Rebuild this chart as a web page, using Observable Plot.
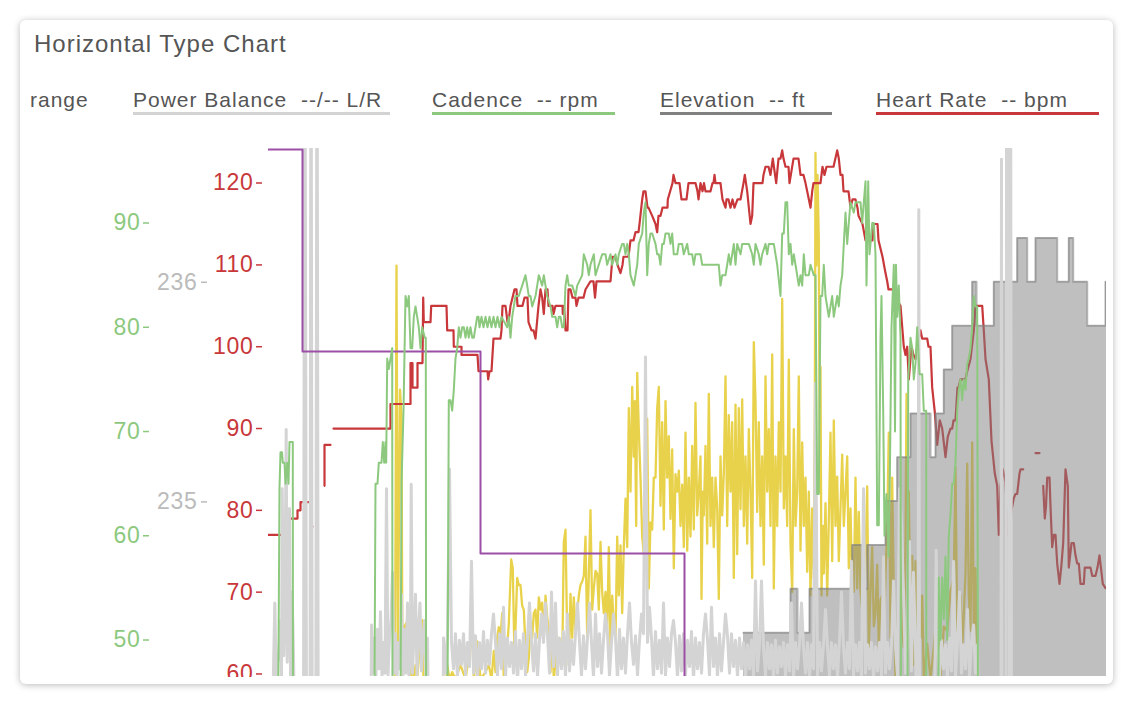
<!DOCTYPE html>
<html><head><meta charset="utf-8">
<script src="https://cdn.jsdelivr.net/npm/d3@7"></script>
<script src="https://cdn.jsdelivr.net/npm/@observablehq/plot@0.6"></script>
<style>
body{margin:0;background:#fff;width:1135px;height:707px;overflow:hidden;font-family:"Liberation Sans",Arial,sans-serif;}
#card{position:absolute;left:20px;top:20px;width:1093px;height:664px;background:#fff;border-radius:6px;box-shadow:0 1px 7px rgba(0,0,0,.28);overflow:hidden;}
#title{position:absolute;left:14px;top:11px;font-size:24px;line-height:26px;color:#555;letter-spacing:1px;white-space:nowrap;}
.lg{position:absolute;top:68px;font-size:21px;line-height:24px;height:24px;color:#555;letter-spacing:1px;white-space:pre;border-bottom:3px solid transparent;}
#wrap{position:absolute;left:0;top:100px;width:1093px;height:557px;overflow:hidden;}
#wrap svg text{letter-spacing:0.7px;}
</style></head>
<body>
<div id="card">
  <div id="title">Horizontal Type Chart</div>
  <div class="lg" style="left:10px;">range</div>
  <div class="lg" style="left:113px;width:257px;border-color:#d3d3d3;">Power Balance  --/-- L/R</div>
  <div class="lg" style="left:412px;width:183px;border-color:#8cc97e;">Cadence  -- rpm</div>
  <div class="lg" style="left:640px;width:172px;border-color:#808080;">Elevation  -- ft</div>
  <div class="lg" style="left:856px;width:223px;border-color:#c8373a;">Heart Rate  -- bpm</div>
  <div id="wrap"></div>
</div>
<script>
// ---- data (time in s, values in series units) ----
const hrTicks = [60,70,80,90,100,110,120];
const cadTicks = [50,60,70,80,90];
const pbTicks = [235,236];

const purple = [[268,3],[302,2],[480,1],[684,0],[1106,0]];

const hr = [[268,77],[288,77],[288,79],[297,79],[297,80],[300,80],[300,81],[310,81],[310,78],[312,78],[312,null],
[324,83],[324,88],[330,88],[330,null],
[333,90],[390,90],[390,93],[410,93],[410,98],[412,98],[412,95],[417,95],[417,98],[422,98],[422.7,106],[423.3,103],[430,103],[430.7,105],[446,105],[446.7,102],[453,102],[453.3,100],[461,100],[461,99],[477,99],[478,97],[487,97],[487.7,96],[489,97],[491,97],[493,101],[500,101],[501,102],[502,105],[505,105],[507,103],[508,103],[510,105],[514,107],[516,107],[517,105],[522,105],[524,106],[527,106],[528,103],[531,102],[533,102],[535,101],[538,105],[540,107],[541.7,106],[543.3,104],[545,107],[547,107],[548,105],[552,105],[553,104],[555,105],[562,105],[562.3,104],[563.5,105],[565,102],[567,102],[568,107],[570,107],[572,106],[575,106],[576,105],[578,106],[583,106],[585,107],[590,108],[593,108],[594.5,106],[596,108],[610,108],[612,111],[615,111],[617,110],[620,109],[622,110],[623,111],[628,111],[630,113],[633,113],[635,114],[638,114],[639,115],[641.7,118],[643,119],[645,119],[647,117],[648,117],[651.7,116],[655,115],[656.7,114],[658,116],[660,116],[662,117],[667,117],[667.3,118],[672,120],[673,121],[675,120],[679,120],[681,118],[686,118],[688,120],[695,120],[697,119],[698,118],[700,120],[702,119],[703.5,120],[705,119],[710,119],[712,120],[713,120],[714,121],[715,120],[720,120],[722,118],[725,117],[726,118],[728,118],[730,117],[732,118],[734,117],[737,118],[740,118],[743,120],[744.3,121],[746.7,119],[750,115],[751.7,116],[753,120],[762,120],[763,121],[765,122],[768,122],[770,121],[772.3,123],[775.7,120],[778,123],[780,123],[781.7,124],[783,123],[785,122],[788,122],[789,120],[793,123],[798,123],[800,121],[803,121],[805,120],[806.7,119],[810,117],[811.7,119],[813,120],[820,120],[822,122],[824,121],[826,122],[833,122],[836.7,124],[838.3,123],[840,121],[842,121],[843,119],[848,119],[850,117],[852,118],[855,118],[857,117],[858,116],[862,115],[865,113],[872,113],[873,115],[877,115],[878,113],[882,111],[885,109],[886.7,108],[888,107],[893,107],[895,106],[900,105],[903.3,100],[905,99],[906.7,100],[908.3,96],[911,100],[913,99],[915,98.5],[916.7,100],[920,102],[921.7,101],[926.7,101],[928,100],[930,100],[931.7,95],[934.3,92],[936.7,88],[939.3,91],[941.7,90],[945,86.5],[947.3,89],[950,90],[951.7,90],[953,91],[955,91],[956,93],[957,95],[958,95],[960,96],[965,96],[966.7,97],[970,98.5],[973.3,102],[975,105],[981.7,105],[983.3,102],[985,98.5],[988.3,96],[991,88.5],[994.3,84.5],[996.7,83],[998.3,77],[1000,83],[1002.3,85],[1005,83.5],[1007.7,77],[1009.3,77],[1011,80],[1013.3,81.5],[1015,82],[1016.7,82],[1019,84.5],[1020,85],[1022.7,85],[1022.7,null],[1035,87],[1039,87],[1039,null],[1042.7,83],[1044.3,79],[1045.5,80.5],[1046.7,84],[1049,84],[1050,80.5],[1051.7,75.5],[1053.3,77],[1055,77],[1056.7,73.5],[1059,71],[1060.7,73],[1062.7,76],[1065,85],[1067.3,83],[1068.3,73],[1071,76],[1073.3,76],[1075,74.5],[1076.7,73.5],[1078.3,73.5],[1080,71],[1083.3,71],[1084.3,73],[1090,73],[1091.7,72],[1095,72],[1097,73],[1099,74.5],[1102.3,71],[1105,70.5]];

const cadence = [[268,0],[275,0],[279,64.6],[280,68],[281.5,68],[282.3,67],[284,67],[285,65],[286.7,67],[288,65],[289,69],[292.3,69],[292.7,0],[371.7,0],[375,65],[377,65],[378.3,67],[381,67],[382.3,69],[383.7,67],[385,69],[385.7,67],[386.7,77],[388.3,76],[390,77],[391.7,78],[392.3,0],[398,0],[401,65],[403,72],[405,83],[406.7,82],[408.3,83],[410,78],[411.7,78],[413.3,81],[415,82],[416.7,81],[418.3,80],[420,78],[421.7,80],[424.3,79],[425.3,79],[426,0],[445,0],[448.3,73],[450,73],[451.7,72],[453.3,74],[455,77],[456.7,78],[458.3,80],[460,79],[461.7,80],[463.3,80],[465,79],[466.7,80],[468.3,79],[470,80],[471.7,79],[473.3,79],[475,80],[476.7,81],[478,81],[479,80],[481,81],[483,80],[485,81],[487,80],[489,81],[491,80],[493,81],[495,80],[497,81],[499,80],[501,81],[506.7,80],[508.3,81],[510,79],[511.7,81],[515,83],[518.3,83],[521.7,84],[525,85],[526.7,84],[528.3,83],[530,83],[531.7,82],[535,83],[536.7,84],[538.3,85],[541.7,84],[543.3,85],[545,84],[546.7,83],[550,82],[551.7,81],[555,81],[556.7,80],[558.3,81],[560,81],[561.7,80],[563.3,80],[565,84],[566.7,85],[568.3,84],[571.7,84],[575,83],[576.7,84],[581.7,85],[583.3,87],[586.7,86],[588.3,85],[590,86],[593.3,87],[595,85],[598.3,86],[601.7,87],[605,87],[606.7,86],[610,87],[611.7,86],[615,87],[616.7,86],[618.3,87],[621.7,88],[623.3,88],[625,87],[626.7,88],[628.3,87],[630,85],[633.3,84],[635,85],[636.7,86],[638.3,88],[641.7,89],[643.3,91],[645,92],[646.7,85],[648.3,88],[650,89],[651.7,89],[655,88],[656.7,87],[658.3,87],[660,86],[661.7,88],[663.3,88],[665,89],[668.3,89],[670,88],[671.7,89],[673.3,87],[676.7,87],[678.3,88],[681.7,88],[683.3,87],[686.7,88],[688.3,87],[691.7,87],[693.3,86],[695,87],[700,87],[701.7,86],[718.3,86],[720,84],[721.7,85],[725,85],[726.7,86],[728.3,87],[730,86],[731.7,87],[733.3,88],[735,86],[736.7,88],[740,87],[741.7,88],[748.3,88],[751.7,87],[753.3,86],[755,88],[758.3,87],[760,86],[761.7,87],[765,88],[766.7,87],[768.3,88],[773.3,88],[775,87],[776.7,86],[780,83],[781.7,89],[783.3,89],[785,92],[786.7,92],[788.3,87],[790,88],[791.7,86],[793.3,87],[795,86],[798.3,84],[800,85],[801.7,84],[803.3,87],[805,85],[808.3,85],[810,86],[813.3,85],[815,85],[816.7,64],[818.3,64],[820,83],[821.7,83],[823.3,86],[825,83],[828.3,81],[830,82],[831.7,83],[833.3,81],[835,82],[836.7,83],[838.3,82],[840,84],[841.7,85],[843.3,88],[845,91],[846.7,88],[848.3,90],[850,92],[853.3,91],[855,92],[860,92],[861.7,90],[863.3,92],[865,94],[866,84],[867.7,94],[869,87],[870,88],[871.7,90],[873.3,90],[875,87],[876.7,61],[878.3,61],[880,79],[881,83],[882.7,72],[884,60],[886,64],[888,58],[889.5,67],[891,80],[893.3,86],[894.5,70],[895.5,86],[896.7,81],[898.3,84],[900,79],[901,0],[906,0],[907.7,75],[910,79],[911.7,78],[913.3,75],[915,76.5],[916.7,80],[919,75.5],[921.7,75.5],[923.3,72],[925.7,72],[926,0],[936.7,0],[938.3,56],[940,50],[941.7,56],[943.3,52],[945,58],[946.7,50],[948.3,60],[950,62],[951.7,65],[953.3,65],[955,67],[956.7,72],[958.3,74],[960,75],[961.7,73],[963.3,75],[965,74],[966.7,76.5],[968.3,77],[970,78],[971.7,80],[973.3,83],[975,82],[976.7,82],[978.3,0],[1106,0]];

const power = [[394.5,0],[396,470],[397.5,36],[399.5,329],[401,300],[402,0],[404,60],[406,64],[408,16],[410,0],[411.7,24],[413,0],[415,16],[416.7,0],[420,48],[421.7,67],[423,0],[446,0],[446.7,16],[449,0],[451.7,8],[455,0],[460,16],[465,0],[471.7,51],[473.3,0],[476.7,43],[480,0],[485,8],[488.3,16],[491,0],[493.3,32],[495,8],[496.7,47],[498.3,59],[500,47],[501.7,75],[503.3,0],[505,20],[506.7,36],[508.3,63],[510.7,136],[512.3,126],[514,24],[516.7,115],[518.3,107],[520,107],[521.7,83],[523.3,79],[525,36],[526.7,8],[528.3,24],[530,63],[531.7,47],[533.3,75],[535,79],[536.7,47],[538.3,93],[540,79],[541.7,87],[543.3,47],[545,95],[546.7,71],[548.3,55],[550,8],[551.7,47],[553.3,0],[555,36],[556.7,0],[558.3,47],[560,20],[561.7,16],[563.3,156],[565,170],[566.7,47],[568.3,16],[570,97],[571.7,47],[573.3,93],[575,55],[576.7,75],[578.3,95],[580,107],[581.7,111],[583.3,117],[585,162],[586.7,47],[588.3,117],[590,192],[591.7,79],[593.3,103],[595,123],[596.7,120],[598.3,79],[600,156],[601.7,99],[603.3,75],[605,99],[606.7,55],[608.3,150],[610,36],[611.7,95],[613.3,60],[615,47],[616.7,162],[618.3,95],[620,152],[621.7,75],[623.3,150],[625,205],[626.7,150],[628.3,308],[630,213],[631.7,332],[633.3,253],[634.3,316],[635.7,174],[636.7,348],[638.3,284],[640,229],[641.7,162],[643.3,142],[645,174],[646.7,296],[648.3,103],[650,178],[651.7,170],[653.3,229],[655,229],[656.7,308],[658.3,332],[660,197],[661.7,292],[663.3,170],[665,316],[666.7,229],[668.3,276],[670,182],[671.7,261],[673.3,126],[675,233],[676.7,213],[678.3,237],[680,174],[681.7,221],[683.3,150],[685,280],[686.7,146],[688.3,229],[690,162],[691.7,265],[693.3,170],[695,314],[696.7,186],[698.3,213],[700,253],[701,91],[702.3,213],[703.3,186],[705,265],[706.7,154],[708.3,324],[710,174],[711.7,229],[713.3,150],[715,229],[716.7,194],[718.3,91],[720,253],[721.7,186],[723.3,233],[725,344],[726.7,174],[728.3,300],[730,213],[731.7,292],[733.3,115],[735,312],[736.7,142],[738.3,308],[740,193],[741.7,318],[743.3,174],[745,253],[746.7,154],[748.3,284],[750,213],[751.7,115],[753.3,383],[755,316],[756.7,190],[758.3,292],[760,174],[761.7,253],[763.3,130],[765,344],[766.7,213],[768.3,284],[770,174],[771.7,369],[773.3,103],[775,253],[776.7,174],[778.3,292],[780,213],[781.7,432],[783.3,194],[785,253],[786.7,174],[788.3,363],[790,154],[791.7,99],[793.3,284],[795,174],[796.7,213],[798.3,344],[800,146],[801.7,269],[803.3,174],[805,229],[806.7,122],[808.3,213],[810,95],[811.7,194],[813.3,115],[814.3,300],[815,598],[816,470],[817,573],[818.3,500],[819.3,213],[820,355],[821,95],[822.3,174],[823.3,120],[825,200],[826.7,95],[828.3,180],[830,280],[831.7,134],[833.3,294],[835,174],[836.7,230],[838.3,134],[840,194],[841.7,255],[843.3,174],[845,213],[846.7,253],[848.3,126],[850,194],[851.7,103],[853.3,99],[855,229],[856.7,103],[858.3,190],[860,99],[863.3,60],[866.7,219],[868.3,36],[870,100],[871.7,150],[873.3,60],[875,75],[876.7,130],[878.3,36],[880,90],[881.7,95],[883.3,40],[885,120],[886.7,174],[888.3,280],[890,47],[891.7,229],[893.3,95],[895,0],[896.7,47],[898.3,100],[900,134],[901.7,60],[903.3,36],[905,150],[906,324],[907.3,213],[908.3,213],[910,63],[911.7,140],[913.3,16],[915,134],[916.7,0],[918.3,60],[920,47],[921.7,95],[923.3,0],[926.7,40],[930,0],[933.3,36],[936.7,80],[940,0],[943.3,60],[946.7,55],[950,100],[953.3,115],[955,241],[956.7,55],[958.3,75],[960,95],[961.7,36],[963.3,75],[965,120],[966.7,245],[968.3,95],[970,55],[971.7,269],[973.3,55],[975,126],[976.7,0]];

const pbEarly = [[272,234.0],[274.3,234.54],[275.7,234.21],[276.7,234.26],[278.3,234.30],[280,234.46],[281,234.21],[281.7,235.06],[283.3,234.30],[284.3,234.51],[285.7,235.33],[286.7,234.27],[287.7,234.59],[289,234.97],[290,234.21],[291,234.59],[292.3,234.46],[293.3,234.21],[294,234.0],[303,234.0],[304.3,237.5],[306,234.0],[309.5,234.0],[310.5,237.5],[311.7,234.0],[315.3,234.0],[316.5,237.5],[317.7,234.0],
[370.5,234.0],[371,234.44],[372.5,234.22],[374,234.38],[375.5,234.21],[377,234.42],[378.5,234.24],[380,234.50],[381.5,234.20],[383,234.36],[384.5,234.22],[386,235.06],[387.5,234.21],[389,234.38],[390.5,234.46],[392,234.68],[393.5,234.22],[395,234.40],[396.5,234.20],[398,234.36],[399.5,234.24],[401,234.58],[402.5,234.21],[404,234.42],[405.5,234.22],[407,234.54],[408.5,234.20],[410,234.40],[410.7,235.08],[412,234.22],[413.5,234.40],[415,234.58],[416.5,234.21],[418,234.42],[419.5,234.54],[421,234.23],[422.5,234.38],[424,234.46],[425.5,234.21],[427,234.38],[428,234.0],[442.5,234.0]];
const pbMainStart = 443, pbMainStep = 2;
const pbMain = [234.38,234.22,234.40,235.15,234.36,234.24,234.40,234.20,234.37,234.26,
234.40,234.21,234.36,234.25,234.73,234.22,234.39,234.19,234.36,234.24,
234.41,234.22,234.37,234.26,234.40,234.49,234.36,234.21,234.40,234.24,
234.52,234.20,234.38,234.25,234.36,234.22,234.41,234.18,234.37,234.24,
234.40,234.21,234.38,234.54,234.36,234.23,234.40,234.20,234.37,234.49,
234.36,234.54,234.39,234.22,234.59,234.25,234.54,234.21,234.38,234.24,
234.41,234.20,234.49,234.23,234.37,234.26,234.40,234.54,234.36,234.21,
234.39,234.24,234.38,234.54,234.36,234.20,234.49,234.25,234.40,234.22,
234.37,234.49,234.40,234.21,234.36,234.49,234.38,234.19,234.42,234.24,
234.38,234.22,234.40,234.54,234.36,234.26,234.39,234.21,234.37,234.49,
234.40,235.66,234.36,234.52,234.38,234.20,234.41,234.24,234.37,234.22,
234.54,234.21,234.38,234.25,234.40,234.46,234.36,234.20,234.39,234.23,
234.40,234.21,234.37,234.25,234.41,234.19,234.38,234.24,234.36,234.22,
234.40,234.49,234.37,234.21,234.52,234.25,234.38,234.20,234.40,234.23,
234.36,234.49,234.39,234.22,234.40,234.25,234.37,234.20,234.38,234.24,
234.36,234.21,234.35,234.24,234.37,234.20,234.64,234.23,234.35,234.64,
234.34,234.21,234.36,234.24,234.35,234.20,234.37,234.22,234.34,234.25,
234.36,234.21,234.35,234.23,234.54,234.20,234.36,234.24,234.35,234.54,
234.34,234.22,234.36,234.20,234.35,234.24,235.54,234.21,234.36,234.23,
234.35,234.51,234.34,234.21,234.36,234.24,234.35,234.20,234.37,234.59,
234.34,234.22,234.36,234.24,234.73,234.21,234.35,234.23,234.36,234.20,
235.06,234.22,234.35,234.24,234.36,234.20,234.34,234.23,234.36,234.21,
234.75,234.22,234.36,234.24,234.35,234.64,234.34,234.21,235.06,234.90,
234.59,234.22,234.36,234.82,234.23,234.68,234.34];
const pbLate = [[916,234.0],[917.5,234.0],[918.3,236.33],[919,234.0],[934,234.0],[935.7,234.78]];
const pbLateStart = 937, pbLateStep = 2;
const pbLateVals = [234.36,234.21,234.37,234.24,234.35,234.20,234.38,234.23,234.73,234.21,234.36,234.59,234.22,234.35,234.24,234.51,234.21,234.36,234.44,234.22,234.35];
const pbEnd = [[978,234.0],[1000.5,234.0],[1001,236.56],[1001.5,234.0],[1005.5,234.0],[1006.2,237.5],[1007,235.06],[1008,237.5],[1009,234.0],[1010,237.5],[1011,234.0]];

const elevation = [[743,481],[790,482],[797,481],[809,482],[851.7,483],[861.7,482],[866.7,483],[885,484],[896.7,485],[910,486],[930,485],[935,486],[943.3,487],[951.7,488],[971.7,489],[976,488],[993.3,489],[1016.7,490],[1026.7,489],[1035,490],[1056.7,489],[1068.3,490],[1072.7,489],[1086.7,488],[1105,489],[1106,489]];

// ---- build ----
const pb = [...pbEarly,
  ...pbMain.map((v,i)=>[pbMainStart+i*pbMainStep, v]),
  ...pbLate,
  ...pbLateVals.map((v,i)=>[pbLateStart+i*pbLateStep, v]),
  ...pbEnd];

const RED="#c8373a", GREEN="#8cc97e", PBC="#d4d4d4", ELEV="#808080", YEL="#e9d24b", PUR="#9b4fa6";
const hrN  = d3.scaleLinear([59.69,124.23],[0,1]);
const cadN = d3.scaleLinear([46.5,97.15],[0,1]);
const pbN  = d3.scaleLinear([234.205,236.609],[0,1]);
const powN = d3.scaleLinear([3,603],[0,1]);
const purN = d3.scaleLinear([0.391,3.005],[0,1]);
const elN  = d3.scaleLinear([480,492.04],[0,1]);
const X = d => d[0];
const Y = f => d => d[1] == null ? NaN : f(d[1]);

const chart = Plot.plot({
  width: 1093, height: 576,
  marginTop: 28, marginBottom: 20, marginLeft: 248, marginRight: 7,
  x: {domain: [268, 1106], axis: null},
  y: {domain: [0, 1], axis: null},
  style: {background: "transparent", fontFamily: "Liberation Sans, Arial, sans-serif"},
  marks: [
    Plot.line(power, {x: X, y: Y(powN), stroke: YEL, strokeWidth: 2.3, clip: true}),
    Plot.line(hr, {x: X, y: Y(hrN), stroke: RED, strokeWidth: 2.2, clip: true}),
    Plot.areaY(elevation, {x: X, y1: 0, y2: Y(elN), curve: "step-after", fill: ELEV, fillOpacity: 0.5, clip: true}),
    Plot.line(elevation, {x: X, y: Y(elN), curve: "step-after", stroke: ELEV, strokeOpacity: 0.6, strokeWidth: 2, clip: true}),
    Plot.line(pb, {x: X, y: Y(pbN), stroke: PBC, strokeWidth: 3, clip: true}),
    Plot.line(purple, {x: X, y: Y(purN), curve: "step-after", stroke: PUR, strokeWidth: 2, clip: true}),
    Plot.line(cadence, {x: X, y: Y(cadN), stroke: GREEN, strokeWidth: 2, clip: true}),
    Plot.axisY(cadTicks.map(v => cadN(v)), {anchor: "left", label: null, tickSize: 6, tickPadding: 3, dx: -119, color: GREEN, strokeWidth: 1.5, fontSize: 23, tickFormat: d => Math.round(cadN.invert(d))}),
    Plot.axisY(pbTicks.map(v => pbN(v)), {anchor: "left", label: null, tickSize: 6, tickPadding: 4, dx: -61, color: "#bbbbbb", strokeWidth: 1.5, fontSize: 23, tickFormat: d => Math.round(pbN.invert(d))}),
    Plot.axisY(hrTicks.map(v => hrN(v)), {anchor: "left", label: null, tickSize: 6, tickPadding: 3, dx: -6, color: RED, strokeWidth: 1.5, fontSize: 23, tickFormat: d => Math.round(hrN.invert(d))})
  ]
});
document.getElementById("wrap").appendChild(chart);
</script>
</body></html>
